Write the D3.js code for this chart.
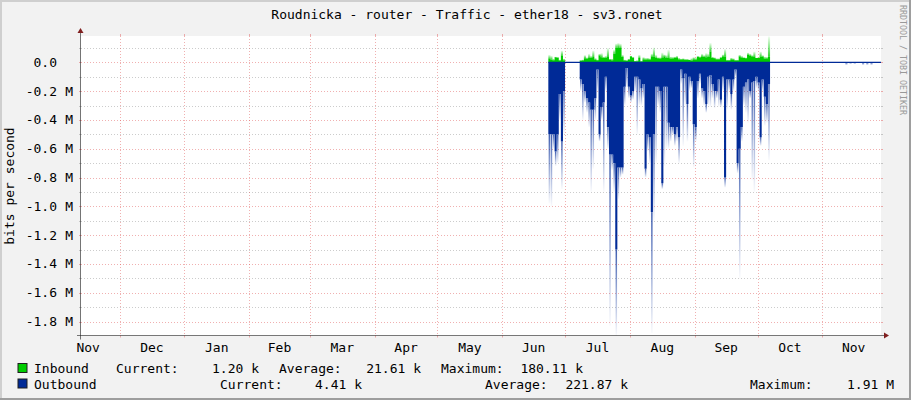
<!DOCTYPE html>
<html><head><meta charset="utf-8">
<script src="https://cdn.jsdelivr.net/npm/d3@7"></script>
<style>
html,body{margin:0;padding:0;background:#f2f2f2;}
svg{display:block;}
text{font-family:"DejaVu Sans Mono",monospace;}
</style></head><body>
<svg id="chart" width="911" height="400"></svg>
<script>
// ---------------- data ----------------
const title = "Roudnicka - router - Traffic - ether18 - sv3.ronet";
const yAxisTitle = "bits per second";
const watermark = "RRDTOOL / TOBI OETIKER";
const monthLabels = ["Nov","Dec","Jan","Feb","Mar","Apr","May","Jun","Jul","Aug","Sep","Oct","Nov"];
const yTickValues = [0, -0.2, -0.4, -0.6, -0.8, -1.0, -1.2, -1.4, -1.6, -1.8]; // in M
const yTickNumbers = ["0.0","-0.2","-0.4","-0.6","-0.8","-1.0","-1.2","-1.4","-1.6","-1.8"];
const yTickUnits = ["","M","M","M","M","M","M","M","M","M"];
const yMinorValues = [0.1, -0.1, -0.3, -0.5, -0.7, -0.9, -1.1, -1.3, -1.5, -1.7];

// daily values starting 2024-06-23
// outbound (Mbit/s): solid body and faded peak
const outSolid = [0.50,0.50,0.50,0.62,0.50,0.22,0.55,0.20,
  0,0,0,0,0,0,0,
  0.12,0.15,0.20,0.25,0.28,0.33,0.33,0.25,0.05,0.50,
  0.31,0.28,0.10,0.45,0.64,0.64,0.70,1.30,0.73,0.73,
  0.73,0.17,0.04,0.17,0.23,0.20,0.10,0.10,0.12,0.18,
  0.15,0.74,0.50,0.52,1.04,0.50,0.17,0.17,0.20,0.84,
  0.17,0.17,0.42,0.45,0.45,0.50,0.45,0.52,0.05,0.11,
  0.08,0.29,0.10,0.13,0.43,0.45,0.13,0.08,0.18,0.20,
  0.29,0.10,0.09,0.15,0.20,0.20,0.12,0.26,0.10,0.80,
  0.12,0.12,0.22,0.12,0.05,0.70,0.60,0.45,0.17,0.14,
  0.12,0.20,0.14,0.13,0.10,0.14,0.52,0.12,0.24,0.29,
  0.15];
const outPeak = [0.98,1.00,0.60,0.72,0.70,0.40,0.88,0.50,
  0,0,0,0,0,0,0,
  0.20,0.40,0.28,0.35,0.45,0.90,0.74,0.40,0.20,0.55,
  0.40,0.90,0.20,0.60,1.83,0.75,0.90,1.90,0.95,0.80,
  0.78,0.30,0.17,0.25,0.28,0.26,0.20,0.50,0.30,0.30,
  0.25,0.80,0.62,0.70,1.88,1.10,0.70,0.30,0.35,0.88,
  0.72,0.60,0.60,0.55,0.50,0.58,0.55,0.70,0.15,0.58,
  0.30,0.55,0.20,0.18,0.73,0.55,0.25,0.15,0.25,0.30,
  0.35,0.30,0.31,0.25,0.32,0.25,0.31,0.31,0.20,0.87,
  0.33,0.20,0.33,0.20,0.10,0.77,1.50,0.55,0.30,0.35,
  0.42,0.25,0.82,0.90,0.18,0.20,0.58,0.20,0.44,0.42,
  0.68];
// inbound (kbit/s)
const inSolid = [24,20,14,35,30,13,45,15,
  0,0,0,0,0,0,0,
  10,12,28,25,29,30,36,17,15,47,
  35,30,30,36,17,15,60,100,105,99,
  36,12,10,17,40,30,8,8,29,6,
  22,20,22,20,40,40,29,28,27,29,
  40,29,30,27,26,30,33,22,20,22,
  17,17,16,12,22,20,36,33,40,36,
  35,36,75,29,28,22,22,29,40,40,
  12,12,22,20,12,12,40,31,29,28,
  50,45,40,38,29,30,40,38,27,26,
  40];
const inPeak = [52,45,25,40,38,20,82,25,
  0,0,0,0,0,0,0,
  15,20,50,35,59,45,82,30,20,59,
  64,40,45,99,25,25,87,130,134,129,
  52,20,15,25,47,40,12,15,52,10,
  36,30,30,28,60,103,52,35,35,68,
  55,50,87,40,38,40,45,30,26,28,
  22,22,20,29,36,30,45,42,59,50,
  64,60,134,40,35,28,28,40,55,92,
  18,18,31,28,16,18,52,45,36,34,
  68,60,50,75,33,35,75,50,40,38,
  180];
// small outbound blips later (day offset from start, Mbit/s)
const blipDays = [142, 144, 146, 150, 152, 154];
const blipOut = [0.02, 0.012, 0.012, 0.02, 0.02, 0.02];

const seriesNames = ["Inbound", "Outbound"];
const seriesColors = ["#00CC00", "#002A97"];
const statLabels = ["Current:", "Average:", "Maximum:"];
const inStats = ["1.20 k", "21.61 k", "180.11 k"];
const outStats = ["4.41 k", "221.87 k", "1.91 M"];

// ---------------- layout ----------------
const W = 911, H = 400;
const X0 = 81, X1 = 881, Y0 = 335.5, Y1 = 36;
const tStart = new Date(2023, 10, 12, 14, 0);
const tEnd = new Date(2024, 10, 29, 1, 0);
const dataStart = new Date(2024, 5, 23);

const svg = d3.select("#chart");
const x = d3.scaleTime().domain([tStart, tEnd]).range([X0, X1]);
const y = d3.scaleLinear().domain([-1.897, 0.1826]).range([Y0, Y1]);

// background and 3D border
svg.append("rect").attr("width", W).attr("height", H).attr("fill", "#f2f2f2");
svg.append("rect").attr("x",0).attr("y",0).attr("width",W).attr("height",2).attr("fill","#cfcfcf");
svg.append("rect").attr("x",0).attr("y",0).attr("width",2).attr("height",H).attr("fill","#cfcfcf");
svg.append("rect").attr("x",W-2).attr("y",0).attr("width",2).attr("height",H).attr("fill","#9e9e9e");
svg.append("rect").attr("x",0).attr("y",H-2).attr("width",W).attr("height",2).attr("fill","#9e9e9e");

// canvas
svg.append("rect").attr("x", X0).attr("y", Y1).attr("width", X1 - X0).attr("height", Y0 - Y1).attr("fill", "#ffffff");

const px = v => Math.round(v) + 0.5;
const grid = svg.append("g");
const minorCol = "#8f8f8f", minorOp = 0.45, majorCol = "#de4f4f", majorOp = 0.45;
// minor horizontal
yMinorValues.forEach(v => {
  const yy = px(y(v));
  grid.append("line").attr("x1", X0).attr("x2", X1).attr("y1", yy).attr("y2", yy)
    .attr("stroke", minorCol).attr("stroke-opacity", minorOp).attr("stroke-dasharray", "1,2");
  grid.append("line").attr("x1", X0-2).attr("x2", X0).attr("y1", yy).attr("y2", yy).attr("stroke", minorCol).attr("stroke-opacity", minorOp);
  grid.append("line").attr("x1", X1).attr("x2", X1+2).attr("y1", yy).attr("y2", yy).attr("stroke", minorCol).attr("stroke-opacity", minorOp);
});
// major horizontal
yTickValues.forEach(v => {
  const yy = px(y(v));
  grid.append("line").attr("x1", X0).attr("x2", X1).attr("y1", yy).attr("y2", yy)
    .attr("stroke", majorCol).attr("stroke-opacity", majorOp).attr("stroke-dasharray", "1,2");
  grid.append("line").attr("x1", X0-2).attr("x2", X0).attr("y1", yy).attr("y2", yy).attr("stroke", majorCol).attr("stroke-opacity", majorOp);
  grid.append("line").attr("x1", X1).attr("x2", X1+2).attr("y1", yy).attr("y2", yy).attr("stroke", majorCol).attr("stroke-opacity", majorOp);
});
// vertical month lines
const monthStarts = d3.timeMonth.range(tStart, tEnd);
monthStarts.forEach(m => {
  const xx = px(x(m));
  grid.append("line").attr("x1", xx).attr("x2", xx).attr("y1", Y1).attr("y2", Y0)
    .attr("stroke", majorCol).attr("stroke-opacity", majorOp).attr("stroke-dasharray", "1,2");
  grid.append("line").attr("x1", xx).attr("x2", xx).attr("y1", Y1-2).attr("y2", Y1).attr("stroke", majorCol).attr("stroke-opacity", majorOp);
  grid.append("line").attr("x1", xx).attr("x2", xx).attr("y1", Y0).attr("y2", Y0+2).attr("stroke", majorCol).attr("stroke-opacity", majorOp);
});

// gradients
const defs = svg.append("defs");
const gOut = defs.append("linearGradient").attr("id", "fadeOut").attr("x1",0).attr("y1",0).attr("x2",0).attr("y2",1);
gOut.append("stop").attr("offset", "0%").attr("stop-color", seriesColors[1]).attr("stop-opacity", 0.75);
gOut.append("stop").attr("offset", "100%").attr("stop-color", seriesColors[1]).attr("stop-opacity", 0.02);
const gIn = defs.append("linearGradient").attr("id", "fadeIn").attr("x1",0).attr("y1",1).attr("x2",0).attr("y2",0);
gIn.append("stop").attr("offset", "0%").attr("stop-color", seriesColors[0]).attr("stop-opacity", 0.8);
gIn.append("stop").attr("offset", "100%").attr("stop-color", seriesColors[0]).attr("stop-opacity", 0.05);

// build records
const days = outSolid.map((s, i) => ({
  date: d3.timeDay.offset(dataStart, i),
  next: d3.timeDay.offset(dataStart, i + 1),
  os: s, op: outPeak[i], is: inSolid[i] / 1000, ip: inPeak[i] / 1000
}));
const stepData = days.concat([{date: days[days.length-1].next, os: days[days.length-1].os, is: days[days.length-1].is}]);

// inbound
const inG = svg.append("g");
inG.selectAll("rect.fi").data(days.filter(d => d.ip > d.is)).join("rect")
  .attr("x", d => x(d.date)).attr("width", d => x(d.next) - x(d.date))
  .attr("y", d => y(d.ip)).attr("height", d => y(d.is) - y(d.ip))
  .attr("fill", "url(#fadeIn)");
inG.append("path").datum(stepData)
  .attr("d", d3.area().x(d => x(d.date)).y0(y(0)).y1(d => y(d.is)).curve(d3.curveStepAfter))
  .attr("fill", seriesColors[0]);

// outbound
const outG = svg.append("g");
outG.selectAll("rect.fo").data(days.filter(d => d.op > d.os)).join("rect")
  .attr("x", d => x(d.date) + 0.3).attr("width", d => x(d.next) - x(d.date) - 0.6)
  .attr("y", d => y(-d.os)).attr("height", d => y(-d.op) - y(-d.os))
  .attr("fill", "url(#fadeOut)");
outG.append("path").datum(stepData)
  .attr("d", d3.area().x(d => x(d.date)).y0(y(0)).y1(d => y(-d.os)).curve(d3.curveStepAfter))
  .attr("fill", seriesColors[1]);
outG.selectAll("rect.blip").data(blipDays.map((d, i) => ({date: d3.timeDay.offset(dataStart, d), v: blipOut[i]}))).join("rect")
  .attr("x", d => x(d.date)).attr("width", d => x(d3.timeDay.offset(d.date, 1)) - x(d.date))
  .attr("y", y(0)).attr("height", d => y(-d.v) - y(0))
  .attr("fill", "url(#fadeOut)");
// zero line of outbound
outG.append("line").attr("x1", x(dataStart)).attr("x2", X1).attr("y1", y(0)).attr("y2", y(0))
  .attr("stroke", seriesColors[1]).attr("stroke-width", 1.3);

// axes
const axisCol = "#1f1f1f", arrowCol = "#801f1f";
svg.append("line").attr("x1", X0-4).attr("x2", X1+4).attr("y1", Y0).attr("y2", Y0).attr("stroke", axisCol).attr("stroke-opacity", 0.6);
svg.append("line").attr("x1", X0-0.5).attr("x2", X0-0.5).attr("y1", Y0+4).attr("y2", Y1-4).attr("stroke", axisCol).attr("stroke-opacity", 0.6);
svg.append("path").attr("d", `M${X1+3},${Y0-3}L${X1+3},${Y0+3}L${X1+8},${Y0}Z`).attr("fill", arrowCol);
svg.append("path").attr("d", `M${X0-3.5},${Y1-3}L${X0+2.5},${Y1-3}L${X0-0.5},${Y1-8}Z`).attr("fill", arrowCol);

// y labels
const fs = 13;
yTickValues.forEach((v, i) => {
  svg.append("text").attr("x", 57).attr("y", y(v) + 4.5).attr("text-anchor", "end")
    .attr("font-size", fs).attr("fill", "#000").text(yTickNumbers[i]);
  if (yTickUnits[i]) svg.append("text").attr("x", 73).attr("y", y(v) + 4.5).attr("text-anchor", "end")
    .attr("font-size", fs).attr("fill", "#000").text(yTickUnits[i]);
});
// month labels
const monthMids = d3.timeMonth.range(d3.timeMonth.floor(tStart), tEnd)
  .map(m => new Date((m.getTime() + d3.timeMonth.offset(m, 1).getTime()) / 2))
  .filter(m => m >= tStart && m <= tEnd);
monthMids.forEach((m, i) => {
  svg.append("text").attr("x", x(m)).attr("y", 352).attr("text-anchor", "middle")
    .attr("font-size", fs).attr("fill", "#000").text(monthLabels[i]);
});

// titles
svg.append("text").attr("x", 467).attr("y", 19).attr("text-anchor", "middle")
  .attr("font-size", fs).attr("fill", "#000").text(title);
svg.append("text").attr("transform", "translate(14,186) rotate(-90)").attr("text-anchor", "middle")
  .attr("font-size", fs).attr("fill", "#000").text(yAxisTitle);
svg.append("text").attr("transform", "translate(899.5,5) rotate(90)").attr("text-anchor", "start")
  .attr("font-size", 8.3).attr("fill", "#999999").text(watermark);

// legend
const rows = [
  {name: seriesNames[0], color: seriesColors[0], stats: inStats, by: 373,
   lx: [116, 279, 441], vx: [259, 421, 583]},
  {name: seriesNames[1], color: seriesColors[1], stats: outStats, by: 388.5,
   lx: [220, 485, 750], vx: [362, 628, 894]}
];
rows.forEach(r => {
  svg.append("rect").attr("x", 18).attr("y", r.by - 9.5).attr("width", 9).attr("height", 9)
    .attr("fill", r.color).attr("stroke", "#1f1f1f").attr("stroke-width", 1);
  svg.append("text").attr("x", 34).attr("y", r.by).attr("font-size", fs).text(r.name);
  statLabels.forEach((s, i) => {
    svg.append("text").attr("x", r.lx[i]).attr("y", r.by).attr("font-size", fs).text(s);
    svg.append("text").attr("x", r.vx[i]).attr("y", r.by).attr("text-anchor", "end").attr("font-size", fs).text(r.stats[i]);
  });
});
</script>
</body></html>
